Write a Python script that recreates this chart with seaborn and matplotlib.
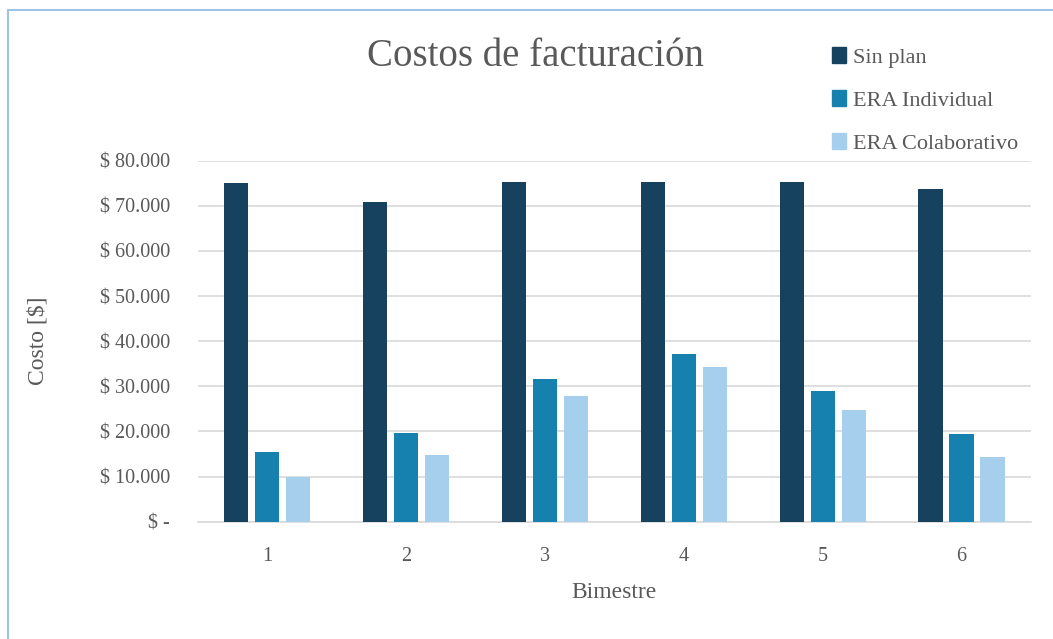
import matplotlib
matplotlib.use("Agg")
import matplotlib.pyplot as plt
import matplotlib.patches as mpatches
from matplotlib.ticker import FuncFormatter, MultipleLocator
import seaborn as sns
import pandas as pd

bimestres = ["1", "2", "3", "4", "5", "6"]
sin_plan = [75000, 70800, 75300, 75300, 75300, 73700]
era_individual = [15500, 19700, 31600, 37200, 28900, 19400]
era_colaborativo = [10000, 14800, 27800, 34300, 24800, 14300]
series = ["Sin plan", "ERA Individual", "ERA Colaborativo"]
colores = ["#16425F", "#1681AF", "#A6CEED"]

df = pd.DataFrame({
    "Bimestre": bimestres * 3,
    "Costo": sin_plan + era_individual + era_colaborativo,
    "Serie": [s for s in series for _ in bimestres],
})

sns.set_theme(style="white")
plt.rcParams["font.family"] = ["Liberation Serif", "DejaVu Serif"]
texto = "#595959"

fig = plt.figure(figsize=(10.53, 6.39), dpi=100)
ax = fig.add_axes([0.188, 0.1836, 0.791, 0.5649])

sns.barplot(data=df, x="Bimestre", y="Costo", hue="Serie", hue_order=series,
            palette=colores, width=0.67, gap=0.22, ax=ax, legend=False,
            saturation=1, edgecolor="none", zorder=3)

ax.set_ylim(0, 80000)
ax.yaxis.set_major_locator(MultipleLocator(10000))


def moneda(v, _):
    if v == 0:
        return "$ -"
    return "$ " + f"{int(v):,}".replace(",", ".")


ax.yaxis.set_major_formatter(FuncFormatter(moneda))
ax.grid(axis="y", color="#D9D9D9", linewidth=1.2, zorder=0)
ax.grid(axis="x", visible=False)
for lado in ["top", "right", "left"]:
    ax.spines[lado].set_visible(False)
ax.spines["bottom"].set_color("#D9D9D9")
ax.spines["bottom"].set_linewidth(1.2)
ax.tick_params(axis="both", colors=texto, labelsize=14.5, length=0)
ax.tick_params(axis="y", pad=20)
ax.tick_params(axis="x", pad=18)

ax.set_xlabel("Bimestre", fontsize=17, color=texto, labelpad=12)
ax.set_ylabel("Costo [$]", fontsize=17, color=texto, labelpad=37)

fig.text(0.509, 0.912, "Costos de facturación", fontsize=28, color=texto,
         ha="center", va="center")

handles = [mpatches.Patch(color=c, label=s) for c, s in zip(colores, series)]
leg = fig.legend(handles=handles, loc="upper left", bbox_to_anchor=(0.771, 0.957),
                 frameon=False, fontsize=16, handlelength=0.65, handleheight=0.7,
                 handletextpad=0.3, labelspacing=1.0, labelcolor=texto)

# marco del gráfico
borde = mpatches.Rectangle((8 / 1053, -0.2), 1.2, 1.2 - 10 / 639, transform=fig.transFigure,
                           fill=False, edgecolor="#9DC3E6", linewidth=1.5)
fig.patches.append(borde)

fig.savefig("out.png", dpi=100)
